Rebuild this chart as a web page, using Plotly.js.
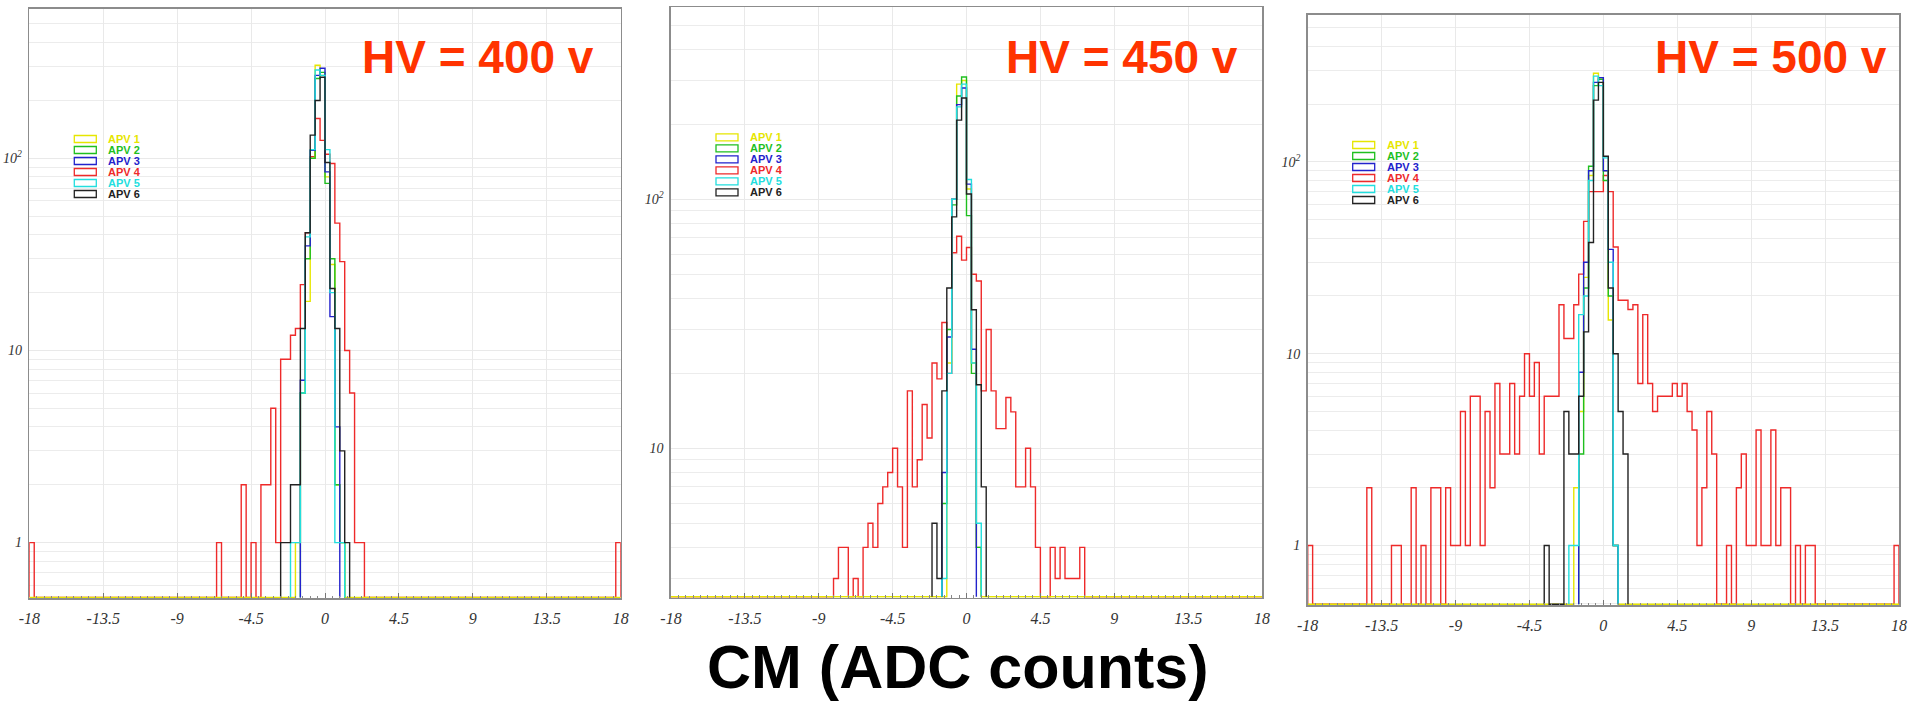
<!DOCTYPE html>
<html>
<head>
<meta charset="utf-8">
<script src="https://cdn.plot.ly/plotly-3.0.1.min.js"></script>
<style>html,body{margin:0;padding:0;background:#fff;}#chart{width:1909px;height:702px;}</style>
</head>
<body>
<div id="chart"></div>
<script>
// ---------------- DATA ----------------
const BIN_WIDTH = 0.3;           // ADC counts per bin (120 bins from -18 to 18)
const X_MIN = -18, X_MAX = 18;
const X_TICKS = [-18, -13.5, -9, -4.5, 0, 4.5, 9, 13.5, 18];
const X_TICK_LABELS = ['-18', '-13.5', '-9', '-4.5', '0', '4.5', '9', '13.5', '18'];
const Y_TICKS = [1, 10, 100];
const Y_TICK_LABELS = ['1', '10', '10<sup>2</sup>'];
const SERIES_NAMES = ['APV 1', 'APV 2', 'APV 3', 'APV 4', 'APV 5', 'APV 6'];
const PANEL_TITLES = ['HV = 400 v', 'HV = 450 v', 'HV = 500 v'];
const X_TITLE = 'CM (ADC counts)';

// HV = 400 v  (start = left edge of first bin)
const HV400_APV1_START = -1.8;
const HV400_APV1 = [1, 6, 18, 100, 305, 270, 80, 28, 2, 1];
const HV400_APV2_START = -1.5;
const HV400_APV2 = [6, 30, 100, 260, 280, 74, 30, 2, 1];
const HV400_APV3_START = -1.5;
const HV400_APV3 = [7, 35, 110, 270, 294, 85, 15, 4];
const HV400_APV4_START = -6.6;
const HV400_APV4 = [1, 0, 0, 0, 0, 2, 0, 1, 0, 2, 2, 5, 1, 9, 9, 12, 13, 22, 41, 102, 161, 124, 105, 94, 46, 29, 10, 6, 1, 1];
const HV400_APV4_EDGE_BINS = [1, 1];
const HV400_APV5_START = -2.1;
const HV400_APV5 = [1, 1, 6, 39, 111, 288, 270, 111, 20, 1, 1];
const HV400_APV6_START = -2.7;
const HV400_APV6 = [1, 1, 2, 2, 13, 41, 132, 200, 264, 95, 21, 13, 3, 1];

// HV = 450 v
const HV450_APV1_START = -1.2;
const HV450_APV1 = [22, 100, 290, 300, 110, 22, 4];
const HV450_APV2_START = -1.5;
const HV450_APV2 = [6, 30, 95, 260, 310, 86, 20, 4];
const HV450_APV3_START = -1.5;
const HV450_APV3 = [8, 28, 100, 240, 280, 115, 25];
const HV450_APV4_START = -8.1;
const HV450_APV4 = [3, 4, 4, 0, 3, 0, 4, 5, 4, 6, 7, 8, 10, 7, 4, 17, 7, 9, 15, 11, 22, 19, 32, 20, 61, 71, 57, 64, 50, 47, 17, 30, 17, 12, 12, 16, 14, 7, 7, 10, 7, 4, 0, 0, 4, 3, 4, 3, 3, 3, 4];
const HV450_APV4_EDGE_BINS = [0, 0];
const HV450_APV5_START = -1.5;
const HV450_APV5 = [3, 20, 100, 235, 290, 120, 22, 5];
const HV450_APV6_START = -2.1;
const HV450_APV6 = [5, 3, 17, 44, 85, 208, 255, 105, 36, 18, 7];

// HV = 500 v
const HV500_APV1_START = -1.8;
const HV500_APV1 = [2, 5, 25, 85, 290, 270, 90, 15, 1];
const HV500_APV2_START = -1.5;
const HV500_APV2 = [3, 22, 95, 250, 270, 80, 20, 1];
const HV500_APV3_START = -1.5;
const HV500_APV3 = [8, 30, 90, 260, 275, 90, 35, 1];
const HV500_APV4_START = -14.4;
const HV500_APV4 = [2, 0, 0, 0, 0, 1, 1, 0, 0, 2, 0, 1, 0, 2, 2, 0, 2, 1, 1, 5, 1, 6, 6, 1, 5, 2, 7, 3, 3, 7, 3, 6, 10, 6, 9, 3, 6, 6, 6, 18, 12, 12, 18, 26, 49, 70, 70, 70, 85, 70, 36, 19, 19, 17, 18, 7, 16, 7, 5, 6, 6, 6, 7, 6, 7, 5, 4, 1, 2, 5, 3, 0, 0, 1, 0, 2, 3, 1, 1, 4, 1, 1, 4, 1, 2, 2, 0, 1, 0, 1, 1];
const HV500_APV4_EDGE_BINS = [1, 1];
const HV500_APV5_START = -2.1;
const HV500_APV5 = [1, 1, 16, 20, 80, 280, 250, 105, 30, 1];
const HV500_APV6_START = -3.6;
const HV500_APV6 = [1, 0, 0, 0, 5, 3, 3, 6, 13, 38, 210, 260, 107, 22, 10, 5, 3];

// ---------------- DRAWING ----------------
const COLORS = ['#e6e600', '#1fbf1f', '#2222cc', '#ee2a2a', '#22dede', '#222222'];
const NBINS = Math.round((X_MAX - X_MIN) / BIN_WIDTH);

const panels = [
  {x: [29.3, 620.7], y: [9, 598.3], yr: [-0.29, 2.777], titleRight: 596,
   data: [[HV400_APV1_START, HV400_APV1], [HV400_APV2_START, HV400_APV2], [HV400_APV3_START, HV400_APV3],
          [HV400_APV4_START, HV400_APV4], [HV400_APV5_START, HV400_APV5], [HV400_APV6_START, HV400_APV6]],
   edges: HV400_APV4_EDGE_BINS},
  {x: [671, 1262], y: [7.3, 597.7], yr: [0.40, 2.771], titleRight: 1239.7,
   data: [[HV450_APV1_START, HV450_APV1], [HV450_APV2_START, HV450_APV2], [HV450_APV3_START, HV450_APV3],
          [HV450_APV4_START, HV450_APV4], [HV450_APV5_START, HV450_APV5], [HV450_APV6_START, HV450_APV6]],
   edges: HV450_APV4_EDGE_BINS},
  {x: [1307.7, 1899], y: [15, 605], yr: [-0.31, 2.766], titleRight: 1888.9,
   data: [[HV500_APV1_START, HV500_APV1], [HV500_APV2_START, HV500_APV2], [HV500_APV3_START, HV500_APV3],
          [HV500_APV4_START, HV500_APV4], [HV500_APV5_START, HV500_APV5], [HV500_APV6_START, HV500_APV6]],
   edges: HV500_APV4_EDGE_BINS}
];

const W = 1909, H = 702;

function toFull(start, counts) {
  const full = new Array(NBINS).fill(0);
  const off = Math.round((start - X_MIN) / BIN_WIDTH);
  counts.forEach((c, i) => { full[off + i] = c; });
  return full;
}

function stepXY(start, counts, ymin) {
  const xs = [start], ys = [ymin];
  counts.forEach((c, i) => { xs.push(start + i * BIN_WIDTH); ys.push(Math.max(c, ymin)); });
  const end = start + counts.length * BIN_WIDTH;
  xs.push(end); ys.push(Math.max(counts[counts.length - 1], ymin));
  xs.push(end); ys.push(ymin);
  return {xs, ys};
}

// minor grid: 1..9 x decades
const Y_GRID = [];
[0.1, 1, 10, 100].forEach(d => { for (let k = 2; k <= 9; k++) Y_GRID.push(+(k * d).toPrecision(3)); });

const traces = [], layout = {
  width: W, height: H, margin: {l: 0, r: 0, t: 0, b: 0},
  paper_bgcolor: '#fff', plot_bgcolor: '#fff', showlegend: false,
  shapes: [], annotations: []
};

// draw order: APV4 (red), APV1 (yellow), APV2, APV3, APV5, APV6
const ORDER = [3, 0, 1, 2, 4, 5];

panels.forEach((p, pi) => {
  const sfx = pi === 0 ? '' : String(pi + 1);
  const xa = 'x' + sfx, ya = 'y' + sfx;
  const ymin = Math.pow(10, p.yr[0] + 0.004);
  ORDER.forEach(si => {
    let [start, counts] = p.data[si];
    if (si === 0) { counts = toFull(start, counts); start = X_MIN; }
    if (si === 3) {
      counts = toFull(start, counts); start = X_MIN;
      counts[0] = p.edges[0]; counts[NBINS - 1] = p.edges[1];
    }
    const s = stepXY(start, counts, ymin);
    traces.push({
      type: 'scatter', mode: 'lines', x: s.xs, y: s.ys, xaxis: xa, yaxis: ya,
      line: {shape: 'hv', color: COLORS[si], width: 1.4}, hoverinfo: 'skip', name: SERIES_NAMES[si]
    });
  });

  layout['xaxis' + sfx] = {
    domain: [p.x[0] / W, p.x[1] / W], anchor: ya, range: [X_MIN, X_MAX],
    tickmode: 'array', tickvals: X_TICKS, ticktext: X_TICK_LABELS,
    showgrid: true, gridcolor: '#e9e9e9', gridwidth: 1, zeroline: false,
    showline: true, mirror: true, linecolor: '#8c8c8c', linewidth: 1.6,
    ticks: 'inside', ticklen: 5, tickcolor: '#777', ticklabelstandoff: 5,
    minor: {ticks: 'inside', ticklen: 2.5, dtick: 0.45, tickcolor: '#888', showgrid: false},
    tickfont: {family: 'Liberation Serif, Times New Roman, serif', size: 16, color: '#333', style: 'italic'}
  };
  layout['yaxis' + sfx] = {
    domain: [1 - p.y[1] / H, 1 - p.y[0] / H], anchor: xa, type: 'log', range: p.yr,
    tickmode: 'array', tickvals: Y_TICKS, ticktext: Y_TICK_LABELS,
    showgrid: true, gridcolor: '#e9e9e9', gridwidth: 1, zeroline: false,
    showline: true, mirror: true, linecolor: '#8c8c8c', linewidth: 1.6,
    ticks: '', ticklabelstandoff: 3,
    minor: {tickmode: 'array', tickvals: Y_GRID, showgrid: true, gridcolor: '#ececec', gridwidth: 1, ticks: ''},
    tickfont: {family: 'Liberation Serif, Times New Roman, serif', size: 14, color: '#333', style: 'italic'}
  };

  // in-panel legend (ROOT style boxes)
  const pw = p.x[1] - p.x[0], ph = p.y[1] - p.y[0];
  SERIES_NAMES.forEach((nm, i) => {
    const cy = 130 + 11 * i;
    layout.shapes.push({
      type: 'rect', xref: xa + ' domain', yref: ya + ' domain',
      x0: 45 / pw, x1: 67 / pw, y0: 1 - (cy + 3.5) / ph, y1: 1 - (cy - 3.5) / ph,
      line: {color: COLORS[i], width: 1.3}, fillcolor: 'rgba(0,0,0,0)'
    });
    layout.annotations.push({
      xref: xa + ' domain', yref: ya + ' domain', x: 77 / pw, y: 1 - cy / ph,
      xanchor: 'left', yanchor: 'middle', showarrow: false, text: nm,
      font: {family: 'Liberation Sans, Arial, sans-serif', size: 11, weight: 'bold', color: COLORS[i]}
    });
  });

  layout.annotations.push({
    xref: 'paper', yref: 'paper', x: p.titleRight / W, y: 1 - 57 / H,
    xanchor: 'right', yanchor: 'middle', showarrow: false, text: PANEL_TITLES[pi],
    font: {family: 'Liberation Sans, Arial, sans-serif', size: 46, weight: 'bold', color: '#ff3300'}
  });
});

layout.annotations.push({
  xref: 'paper', yref: 'paper', x: 957.5 / W, y: 1 - 667 / H,
  xanchor: 'center', yanchor: 'middle', showarrow: false, text: X_TITLE,
  font: {family: 'Liberation Sans, Arial, sans-serif', size: 61, weight: 'bold', color: '#000'}
});

Plotly.newPlot('chart', traces, layout, {staticPlot: true, displayModeBar: false});
</script>
</body>
</html>
